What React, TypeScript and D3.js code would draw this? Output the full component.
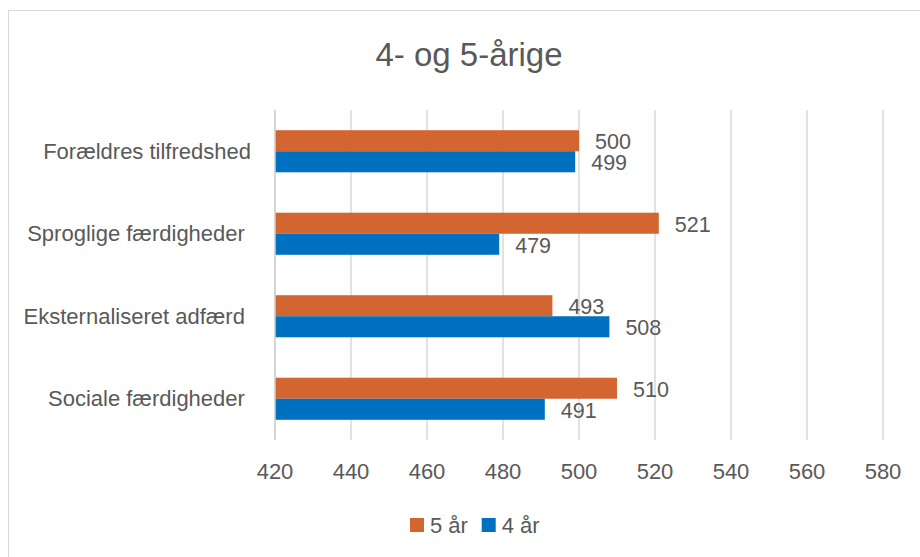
import React from "react";
import * as d3 from "d3";

const title = "4- og 5-årige";
const categories = [
  "Forældres tilfredshed",
  "Sproglige færdigheder ",
  "Eksternaliseret adfærd ",
  "Sociale færdigheder ",
];
const seriesNames = ["5 år", "4 år"];
const values5 = [500, 521, 493, 510];
const values4 = [499, 479, 508, 491];
const xTicks = [420, 440, 460, 480, 500, 520, 540, 560, 580];
const colors = ["#D26530", "#0070C0"];

const W = 920;
const H = 557;
const FONT = "Liberation Sans, Arial, sans-serif";
const TEXT = "#595959";

export default function App() {
  const x = d3.scaleLinear().domain([420, 580]).range([275, 883]);
  const y = d3
    .scaleBand<string>()
    .domain(categories)
    .range([110, 440])
    .paddingInner(0.49)
    .paddingOuter(0.245);
  const sub = d3.scaleBand<number>().domain([0, 1]).range([0, y.bandwidth()]);
  const series = [values5, values4];

  return (
    <div style={{ position: "fixed", left: 0, top: 0 }}>
      <svg width={W} height={H} style={{ display: "block", background: "#fff" }}>
        <rect x={8.5} y={10.5} width={W} height={H} fill="#fff" stroke="#d9d9d9" strokeWidth={1} />
        <text x={469} y={66} textAnchor="middle" fontFamily={FONT} fontSize={33} fill={TEXT}>
          {title}
        </text>
        {xTicks.map((t) => (
          <line key={t} x1={x(t)} x2={x(t)} y1={110} y2={440} stroke="#d9d9d9" strokeWidth={1.5} />
        ))}
        {categories.map((c, ci) =>
          series.map((vals, si) => (
            <rect
              key={c + si}
              x={x(420)}
              y={(y(c) as number) + (sub(si) as number)}
              width={x(vals[ci]) - x(420)}
              height={sub.bandwidth()}
              fill={colors[si]}
            />
          ))
        )}
        <line x1={x(420)} x2={x(420)} y1={110} y2={440} stroke="#d0d0d0" strokeWidth={1.5} />
        {categories.map((c, ci) =>
          series.map((vals, si) => (
            <text
              key={"l" + c + si}
              x={x(vals[ci]) + 16}
              y={(y(c) as number) + (sub(si) as number) + sub.bandwidth() / 2 + 1.5}
              dominantBaseline="central"
              fontFamily={FONT}
              fontSize={21.5}
              fill={TEXT}
            >
              {vals[ci]}
            </text>
          ))
        )}
        {categories.map((c) => (
          <text
            key={"c" + c}
            x={251}
            y={(y(c) as number) + y.bandwidth() / 2}
            textAnchor="end"
            dominantBaseline="central"
            fontFamily={FONT}
            fontSize={22}
            fill={TEXT}
            style={{ whiteSpace: "pre" }}
          >
            {c}
          </text>
        ))}
        {xTicks.map((t) => (
          <text
            key={"t" + t}
            x={x(t)}
            y={471}
            textAnchor="middle"
            dominantBaseline="central"
            fontFamily={FONT}
            fontSize={22}
            fill={TEXT}
          >
            {t}
          </text>
        ))}
        {seriesNames.map((s, i) => (
          <g key={s} transform={`translate(${410 + i * 71.7},0)`}>
            <rect x={0} y={518} width={14} height={14} fill={colors[i]} />
            <text x={20} y={525} dominantBaseline="central" fontFamily={FONT} fontSize={22} fill={TEXT}>
              {s}
            </text>
          </g>
        ))}
      </svg>
    </div>
  );
}
